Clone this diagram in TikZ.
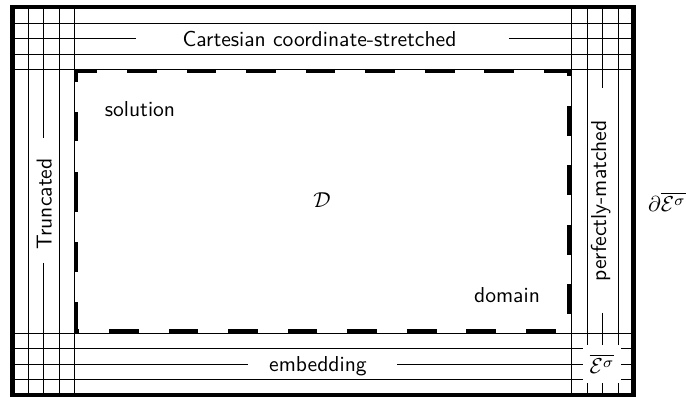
\documentclass[tikz,border=0pt]{standalone}
\begin{document}
\begin{tikzpicture}[x=0.463pt,y=-0.463pt,
  thinline/.style={line width=0.45pt},
  outerline/.style={line width=2.1pt},
  dashline/.style={line width=2pt},
  lbl/.style={inner sep=0pt,font=\sffamily},
  mlbl/.style={inner sep=0pt}]
\useasboundingbox (0,0) rectangle (686,397);
% horizontal grid lines
\foreach \y in {23,54,69,333,348,379}
  \draw[thinline] (12.5,\y) -- (633.5,\y);
\draw[thinline] (12.5,38) -- (136,38);
\draw[thinline] (509,38) -- (633.5,38);
\draw[thinline] (12.5,364) -- (248,364);
\draw[thinline] (397,364) -- (633.5,364);
% vertical grid lines
\foreach \x in {28,59,74,571,587,618}
  \draw[thinline] (\x,7) -- (\x,395);
\draw[thinline] (43,7) -- (43,138);
\draw[thinline] (43,263) -- (43,395);
\draw[thinline] (602,7) -- (602,88);
\draw[thinline] (602,313) -- (602,395);
% outer border
\draw[outerline] (12.5,7) rectangle (633.5,395);
% dashed boundary of solution domain
\draw[dashline,dash pattern=on 13.8pt off 13.77pt,dash phase=3.06pt]
  (74.05,71.2) -- (568.8,71.2) -- (568.8,330.8) -- (74.05,330.8);
\draw[dashline,dash pattern=on 13.33pt off 13.89pt on 13.89pt off 13.89pt on 18.52pt off 14.35pt on 13.43pt off 13.89pt on 20pt]
  (76.2,330.8) -- (76.2,71.2);
% labels
\node[lbl,anchor=base] (top) at (319.5,46.5) {Cartesian coordinate-stretched};
\node[lbl,anchor=base] (bot) at (318,371.5) {embedding};
\node[lbl,anchor=base,rotate=90] (left) at (51.5,204) {Truncated};
\node[lbl,anchor=base,rotate=90] (right) at (606,201) {perfectly-matched};
\node[lbl,anchor=base] (sol) at (140,117) {solution};
\node[lbl,anchor=base] (dom) at (507,303) {domain};
\node[mlbl] (D) at (322,200) {$\mathcal{D}$};
\node[mlbl] (bd) at (667,202) {$\partial\overline{\mathcal{E}^\sigma}$};
\node[mlbl,fill=white,minimum width=17.6pt,minimum height=17.6pt] (E) at (602,364) {$\overline{\mathcal{E}^\sigma}$};
\end{tikzpicture}
\end{document}
